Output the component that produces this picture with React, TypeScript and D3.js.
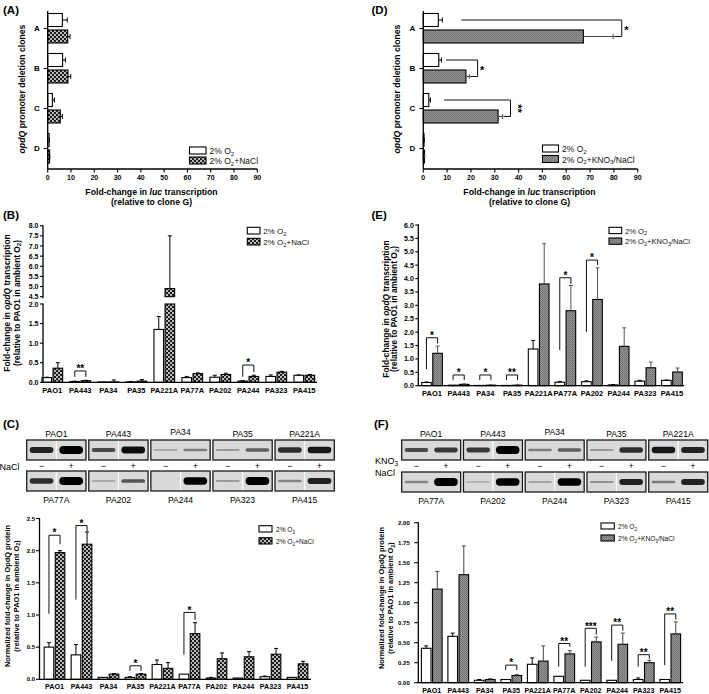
import React from "react";
import * as d3 from "d3";

const FONT = "'Liberation Sans', Arial, Helvetica, sans-serif";

// ---------- Panels A / D : promoter deletion clones ----------
const CLONES = ["A", "B", "C", "D"];
const A_O2 = [6.3, 6.4, 2.0, 0.6];
const A_O2_ERR = [8.4, 7.6, 2.9, 0.7];
const A_NACL = [8.6, 8.7, 5.4, 0.8];
const A_NACL_ERR = [9.6, 9.9, 6.3, 0.9];
const D_O2 = [6.3, 6.5, 2.3, 0.3];
const D_O2_ERR = [8.0, 7.6, 3.0, 0.4];
const D_KNO3 = [67.2, 17.9, 31.4, 0.5];
const D_KNO3_ERR = [79.7, 19.3, 33.3, 0.6];
const D_SIG_FROM = [16, 9.5, 8.7];
const D_SIG_TO = [83.3, 22.8, 36.6];
const D_SIG_LABEL = ["*", "*", "**"];
const FOLD_TICKS = [0, 10, 20, 30, 40, 50, 60, 70, 80, 90];

// ---------- Strains ----------
const STRAINS = ["PAO1", "PA443", "PA34", "PA35", "PA221A", "PA77A", "PA202", "PA244", "PA323", "PA415"];

// Panel B : opdQ transcription, 2% O2 vs 2% O2 + NaCl
const B_O2 = [0.12, 0.02, 0.01, 0.01, 1.35, 0.12, 0.13, 0.03, 0.15, 0.18];
const B_O2_ERR = [0.13, 0.03, 0.01, 0.02, 1.68, 0.15, 0.18, 0.04, 0.19, 0.19];
const B_NACL = [0.36, 0.04, 0.01, 0.03, 4.9, 0.22, 0.2, 0.15, 0.26, 0.18];
const B_NACL_ERR = [0.5, 0.05, 0.06, 0.07, 7.5, 0.24, 0.23, 0.18, 0.28, 0.2];
const B_TICKS_LOW = [0, 0.5, 1, 1.5, 2];
const B_TICKS_HIGH = [4.5, 5, 5.5, 6, 6.5, 7, 7.5, 8];
const B_SIG = [
  { i: 1, top: 0.29, left: 0.14, right: 0.14, label: "**" },
  { i: 7, top: 0.44, left: 0.14, right: 0.26, label: "*" },
];

// Panel E : opdQ transcription, 2% O2 vs 2% O2 + KNO3/NaCl
const E_O2 = [0.12, 0.02, 0.01, 0.01, 1.37, 0.13, 0.15, 0.03, 0.17, 0.2];
const E_O2_ERR = [0.14, 0.02, 0.01, 0.01, 1.69, 0.16, 0.18, 0.04, 0.2, 0.21];
const E_KNO3 = [1.21, 0.05, 0.02, 0.02, 3.8, 2.8, 3.22, 1.47, 0.67, 0.51];
const E_KNO3_ERR = [1.48, 0.07, 0.03, 0.03, 5.3, 3.74, 4.4, 2.16, 0.88, 0.66];
const E_TICKS = [0, 0.5, 1, 1.5, 2, 2.5, 3, 3.5, 4, 4.5, 5, 5.5, 6];
const E_SIG = [
  { i: 0, top: 1.79, left: 0.62, right: 1.58, label: "*" },
  { i: 1, top: 0.4, left: 0.21, right: 0.21, label: "*" },
  { i: 2, top: 0.4, left: 0.21, right: 0.21, label: "*" },
  { i: 3, top: 0.4, left: 0.21, right: 0.21, label: "**" },
  { i: 5, top: 4.03, left: 1.33, right: 3.8, label: "*" },
  { i: 6, top: 4.69, left: 2.01, right: 4.5, label: "*" },
];

// Panel C : OpdQ protein, 2% O2 vs 2% O2 + NaCl
const C_O2 = [0.5, 0.38, 0.03, 0.03, 0.23, 0.08, 0.02, 0.02, 0.04, 0.03];
const C_O2_ERR = [0.57, 0.54, 0.03, 0.04, 0.3, 0.08, 0.03, 0.02, 0.05, 0.03];
const C_NACL = [1.97, 2.1, 0.08, 0.08, 0.17, 0.71, 0.32, 0.35, 0.39, 0.24];
const C_NACL_ERR = [2.0, 2.29, 0.09, 0.09, 0.26, 0.88, 0.41, 0.43, 0.48, 0.28];
const C_TICKS = [0, 0.5, 1, 1.5, 2, 2.5];
const C_SIG = [
  { i: 0, top: 2.24, left: 1.02, right: 2.1, label: "*" },
  { i: 1, top: 2.39, left: 1.24, right: 2.3, label: "*" },
  { i: 3, top: 0.21, left: 0.13, right: 0.13, label: "*" },
  { i: 5, top: 1.04, left: 0.38, right: 0.92, label: "*" },
];

// Panel F : OpdQ protein, 2% O2 vs 2% O2 + KNO3/NaCl
const F_O2 = [0.43, 0.58, 0.03, 0.04, 0.23, 0.08, 0.03, 0.03, 0.04, 0.04];
const F_O2_ERR = [0.46, 0.62, 0.04, 0.04, 0.31, 0.08, 0.03, 0.03, 0.06, 0.04];
const F_KNO3 = [1.17, 1.35, 0.04, 0.09, 0.27, 0.36, 0.51, 0.48, 0.25, 0.61];
const F_KNO3_ERR = [1.39, 1.71, 0.05, 0.1, 0.46, 0.4, 0.57, 0.62, 0.28, 0.76];
const F_TICKS = [0, 0.25, 0.5, 0.75, 1, 1.25, 1.5, 1.75, 2];
const F_SIG = [
  { i: 3, top: 0.22, left: 0.16, right: 0.16, label: "*" },
  { i: 5, top: 0.49, left: 0.2, right: 0.45, label: "**" },
  { i: 6, top: 0.68, left: 0.2, right: 0.6, label: "***" },
  { i: 7, top: 0.72, left: 0.275, right: 0.65, label: "**" },
  { i: 8, top: 0.35, left: 0.2, right: 0.3, label: "**" },
  { i: 9, top: 0.86, left: 0.22, right: 0.79, label: "**" },
];

// Western blots (band intensity 0..1 for − and + lanes)
const BLOT_TOP = ["PAO1", "PA443", "PA34", "PA35", "PA221A"];
const BLOT_BOTTOM = ["PA77A", "PA202", "PA244", "PA323", "PA415"];
const C_BAND_MINUS = [0.8, 0.6, 0.12, 0.2, 0.75, 0.75, 0.12, 0.0, 0.2, 0.3];
const C_BAND_PLUS = [1.0, 0.9, 0.35, 0.5, 0.85, 1.0, 0.55, 0.95, 1.0, 0.8];
const C_DIVIDER = [true, true, false, false, true, true, true, true, true, true];
const F_BAND_MINUS = [0.6, 0.7, 0.35, 0.2, 0.85, 0.3, 0.08, 0.15, 0.25, 0.35];
const F_BAND_PLUS = [0.7, 1.0, 0.5, 0.75, 0.8, 1.0, 0.95, 0.95, 0.8, 0.8];
const F_DIVIDER = [false, true, false, false, true, false, true, true, true, false];

type Sig = { i: number; top: number; left: number; right: number; label: string };
type Seg = { d0: number; d1: number; r0: number; r1: number; ticks: number[]; fmt: string };

function LegendText({ x, y, size, kno3 }: { x: number; y: number; size: number; kno3?: boolean }) {
  return (
    <text x={x} y={y} fontSize={size} fill="#111">
      2% O<tspan dy={1.8} fontSize={size * 0.72}>2</tspan>
      <tspan dy={-1.8}>{kno3 ? "+KNO" : "+NaCl"}</tspan>
      {kno3 ? (
        <>
          <tspan dy={1.8} fontSize={size * 0.72}>3</tspan>
          <tspan dy={-1.8}>/NaCl</tspan>
        </>
      ) : null}
    </text>
  );
}

function Legend({ x, y1, y2, w, h, fill, size, kno3, tx }: any) {
  return (
    <g>
      <rect x={x} y={y1} width={w} height={h} fill="#fff" stroke="#000" strokeWidth={1.1} />
      <text x={tx} y={y1 + h} fontSize={size} fill="#111">
        2% O<tspan dy={1.8} fontSize={size * 0.72}>2</tspan>
      </text>
      <rect x={x} y={y2} width={w} height={h} fill={fill} stroke="#000" strokeWidth={1.1} />
      <LegendText x={tx} y={y2 + h} size={size} kno3={kno3} />
    </g>
  );
}

function HPanel({ o2, o2e, tr, tre, x0, x1, fill, trErrColor, sig, ylabX }: any) {
  const x = d3.scaleLinear().domain([0, 90]).range([x0, x1]);
  const y = d3.scaleBand().domain(CLONES).range([8.5, 168.5]);
  const cy = (c: string) => (y(c) as number) + y.bandwidth() / 2;
  const axisY = 169;
  return (
    <g>
      {CLONES.map((c, i) => {
        const yc = cy(c);
        const yo = yc - 8.5;
        const yt = yc + 8;
        return (
          <g key={c}>
            <rect x={x(0)} y={yc - 15} width={x(o2[i]) - x(0)} height={13} fill="#fff" stroke="#000" strokeWidth={1.1} />
            <rect x={x(0)} y={yc + 1.5} width={x(tr[i]) - x(0)} height={13} fill={fill} stroke="#000" strokeWidth={1.1} />
            <path d={`M${x(o2[i])},${yo}H${x(o2e[i])}M${x(o2e[i])},${yo - 2.5}V${yo + 2.5}`} stroke="#000" strokeWidth={1} fill="none" />
            <path d={`M${x(tr[i])},${yt}H${x(tre[i])}M${x(tre[i])},${yt - 2.5}V${yt + 2.5}`} stroke={trErrColor} strokeWidth={1} fill="none" />
          </g>
        );
      })}
      {sig
        ? D_SIG_FROM.map((f, i) => {
            const yc = cy(CLONES[i]);
            const yo = yc - 8.5;
            const yt = yc + 8;
            const xr = x(D_SIG_TO[i]);
            return (
              <g key={"s" + i}>
                <path d={`M${x(f)},${yo}H${xr}V${yt}H${x(D_KNO3_ERR[i]) + 1}`} stroke="#111" strokeWidth={1} fill="none" />
                {D_SIG_LABEL[i].length > 1 ? (
                  <text x={xr + 4} y={yc} fontSize={11} fontWeight="bold" transform={`rotate(90 ${xr + 4} ${yc})`} textAnchor="middle">
                    {D_SIG_LABEL[i]}
                  </text>
                ) : (
                  <text x={xr + 2.5} y={yc + 5.5} fontSize={11} fontWeight="bold">
                    {D_SIG_LABEL[i]}
                  </text>
                )}
              </g>
            );
          })
        : null}
      {/* axes */}
      <line x1={x0} x2={x0} y1={11} y2={axisY} stroke="#000" strokeWidth={1.3} />
      <line x1={x0} x2={x1} y1={axisY} y2={axisY} stroke="#000" strokeWidth={1.3} />
      {CLONES.map((c) => (
        <g key={"yt" + c}>
          <line x1={x0 - 4} x2={x0} y1={cy(c)} y2={cy(c)} stroke="#000" strokeWidth={1.1} />
          <text x={x0 - 8} y={cy(c) + 2.7} fontSize={8} fontWeight="bold" textAnchor="end">
            {c}
          </text>
        </g>
      ))}
      {FOLD_TICKS.map((t) => (
        <g key={"xt" + t}>
          <line x1={x(t)} x2={x(t)} y1={axisY} y2={axisY + 3.5} stroke="#000" strokeWidth={1.1} />
          <text x={x(t)} y={180} fontSize={7} fontWeight="bold" textAnchor="middle">
            {t}
          </text>
        </g>
      ))}
      <text x={(x0 + x1) / 2 - 1} y={195} fontSize={8.7} fontWeight="bold" textAnchor="middle">
        Fold-change in <tspan fontStyle="italic">luc</tspan> transcription
      </text>
      <text x={(x0 + x1) / 2 - 1} y={204.5} fontSize={8.7} fontWeight="bold" textAnchor="middle">
        (relative to clone G)
      </text>
      <text x={ylabX} y={89} fontSize={8.7} fontWeight="bold" textAnchor="middle" transform={`rotate(-90 ${ylabX} 89)`}>
        <tspan fontStyle="italic">opdQ</tspan> promoter deletion clones
      </text>
    </g>
  );
}

function VPanel({ o2, o2e, tr, tre, xr, axisX, axisEnd, segs, fill, trErrColor, sig, catY, catFont, tickFont, tickLen, labelGap }: any) {
  const x = d3.scaleBand().domain(STRAINS).range(xr);
  const scales = (segs as Seg[]).map((s) => d3.scaleLinear().domain([s.d0, s.d1]).range([s.r0, s.r1]));
  const yOf = (v: number) => {
    if (segs.length > 1 && v >= segs[1].d0) return scales[1](Math.min(v, segs[1].d1));
    return scales[0](Math.min(v, segs[0].d1));
  };
  const bw = 9.6;
  const gap = 1.5;
  const cx = (s: string) => (x(s) as number) + x.bandwidth() / 2;
  const y0 = scales[0](0);
  const bars = (vals: number[], errs: number[], off: number, f: string, ec: string) =>
    STRAINS.map((s, i) => {
      const bx = cx(s) + off;
      const v = vals[i];
      const e = errs[i];
      const rects = (segs as Seg[]).map((sg, k) => {
        if (v <= sg.d0 && k > 0) return null;
        const top = Math.min(v, sg.d1);
        const yt = scales[k](top);
        const yb = scales[k](sg.d0);
        return <rect key={k} x={bx} y={yt} width={bw} height={Math.max(0.3, yb - yt)} fill={f} stroke="#000" strokeWidth={1.1} />;
      });
      const mx = bx + bw / 2;
      return (
        <g key={s + off}>
          {rects}
          {e > v ? (
            <path d={`M${mx},${yOf(v)}V${yOf(e)}M${mx - 2},${yOf(e)}H${mx + 2}`} stroke={ec} strokeWidth={1} fill="none" />
          ) : null}
        </g>
      );
    });
  return (
    <g>
      {bars(o2, o2e, -gap / 2 - bw, "#fff", "#000")}
      {bars(tr, tre, gap / 2, fill, trErrColor)}
      {(sig as Sig[]).map((sg, k) => {
        const c = cx(STRAINS[sg.i]);
        const xl = c - gap / 2 - bw / 2;
        const xrr = c + gap / 2 + bw / 2;
        const yt = yOf(sg.top);
        return (
          <g key={"sig" + k}>
            <path d={`M${xl},${yOf(sg.left)}V${yt}H${xrr}V${yOf(sg.right)}`} stroke="#111" strokeWidth={1} fill="none" />
            <text x={c} y={yt + 1.2} fontSize={10} fontWeight="bold" textAnchor="middle">
              {sg.label}
            </text>
          </g>
        );
      })}
      {/* y axis */}
      {(segs as Seg[]).map((sg, k) => (
        <g key={"ax" + k}>
          <line x1={axisX} x2={axisX} y1={scales[k](sg.d0) + (k === 0 ? 0.6 : 1.5)} y2={scales[k](sg.d1) - 0.5} stroke="#000" strokeWidth={1.3} />
          {sg.ticks.map((t) => (
            <g key={t}>
              <line x1={axisX - tickLen} x2={axisX} y1={scales[k](t)} y2={scales[k](t)} stroke="#000" strokeWidth={1.1} />
              <text x={axisX - labelGap} y={scales[k](t) + tickFont * 0.36} fontSize={tickFont} fontWeight="bold" textAnchor="end">
                {d3.format(sg.fmt)(t)}
              </text>
            </g>
          ))}
        </g>
      ))}
      <line x1={axisX} x2={axisEnd} y1={y0} y2={y0} stroke="#000" strokeWidth={1.3} />
      {STRAINS.map((s) => (
        <text key={"xl" + s} x={cx(s)} y={catY} fontSize={catFont} fontWeight="bold" textAnchor="middle">
          {s}
        </text>
      ))}
    </g>
  );
}

function Blots({ xr, y1, y2, minus, plus, divider }: any) {
  const bx = d3.scaleBand().domain(d3.range(5).map(String)).range(xr).paddingInner(0.045);
  const h = 20;
  const box = (k: number, row: number) => {
    const idx = row * 5 + k;
    const x = bx(String(k)) as number;
    const w = bx.bandwidth();
    const y = row === 0 ? y1 : y2;
    const lane = d3.scaleBand().domain(["-", "+"]).range([x, x + w]);
    const band = (lbl: string, v: number) => {
      if (v < 0.03) return null;
      const bh = 1.8 + 6.2 * v * v;
      const lx = (lane(lbl) as number) + lane.bandwidth() * 0.1;
      const lw = lane.bandwidth() * 0.8;
      const col = d3.interpolateRgb("#c2c2c2", "#050505")(Math.min(1, v * 1.05));
      return <rect x={lx} y={y + h / 2 - bh / 2} width={lw} height={bh} rx={bh / 2} fill={col} filter="url(#blur)" />;
    };
    return (
      <g key={"b" + idx}>
        <rect x={x} y={y} width={w} height={h} fill="#d9d9d9" />
        {band("-", minus[idx])}
        {band("+", plus[idx])}
        {divider[idx] ? <line x1={x + w / 2} x2={x + w / 2} y1={y} y2={y + h} stroke="#fff" strokeWidth={1.2} /> : null}
        <rect x={x} y={y} width={w} height={h} fill="none" stroke="#1a1a1a" strokeWidth={1.3} />
      </g>
    );
  };
  return (
    <g>
      {d3.range(5).map((k) => box(k, 0))}
      {d3.range(5).map((k) => box(k, 1))}
      {BLOT_TOP.map((s, k) => (
        <text key={"lt" + s} x={(bx(String(k)) as number) + bx.bandwidth() / 2} y={y1 - 3.5 - (s === "PA34" ? 1.5 : 0)} fontSize={8.6} textAnchor="middle">
          {s}
        </text>
      ))}
      {BLOT_BOTTOM.map((s, k) => (
        <text key={"lb" + s} x={(bx(String(k)) as number) + bx.bandwidth() / 2} y={y2 + h + 11.5} fontSize={8.6} textAnchor="middle">
          {s}
        </text>
      ))}
      {d3.range(5).map((k) => {
        const x = bx(String(k)) as number;
        const w = bx.bandwidth();
        return (
          <g key={"pm" + k}>
            <text x={x + w * 0.25} y={y1 + h + 8.5} fontSize={9} textAnchor="middle">−</text>
            <text x={x + w * 0.75} y={y1 + h + 8.5} fontSize={9} textAnchor="middle">+</text>
          </g>
        );
      })}
    </g>
  );
}

function VLabel({ x1, x2, cy, size, kind }: any) {
  return (
    <g fontWeight="bold" fontSize={size}>
      <text x={x1} y={cy} textAnchor="middle" transform={`rotate(-90 ${x1} ${cy})`}>
        {kind === "tx" ? (
          <>
            Fold-change in <tspan fontStyle="italic">opdQ</tspan> transcription
          </>
        ) : (
          "Normalized fold-change in OpdQ protein"
        )}
      </text>
      <text x={x2} y={cy} textAnchor="middle" transform={`rotate(-90 ${x2} ${cy})`}>
        (relative to PAO1 in ambient O<tspan dy={1.8} fontSize={size * 0.72}>2</tspan>
        <tspan dy={-1.8}>)</tspan>
      </text>
    </g>
  );
}

export default function App() {
  const segB: Seg[] = [
    { d0: 0, d1: 2, r0: 382.3, r1: 304, ticks: B_TICKS_LOW, fmt: ".1f" },
    { d0: 4.5, d1: 8, r0: 296.7, r1: 225.7, ticks: B_TICKS_HIGH, fmt: ".1f" },
  ];
  const segE: Seg[] = [{ d0: 0, d1: 6, r0: 385.7, r1: 225, ticks: E_TICKS, fmt: ".1f" }];
  const segC: Seg[] = [{ d0: 0, d1: 2.5, r0: 679.3, r1: 518.5, ticks: C_TICKS, fmt: ".1f" }];
  const segF: Seg[] = [{ d0: 0, d1: 2, r0: 682.7, r1: 522.7, ticks: F_TICKS, fmt: ".2f" }];
  return (
    <svg width={709} height={694} style={{ position: "absolute", left: 0, top: 0, display: "block", background: "#fff" }} fontFamily={FONT}>
      <defs>
        <pattern id="check" patternUnits="userSpaceOnUse" width={4} height={4}>
          <rect width={4} height={4} fill="#1c1c1c" />
          <circle cx={1} cy={1} r={0.95} fill="#fff" />
          <circle cx={3} cy={3} r={0.95} fill="#fff" />
        </pattern>
        <pattern id="gray" patternUnits="userSpaceOnUse" width={2} height={2}>
          <rect width={2} height={2} fill="#959595" />
          <rect width={1} height={1} fill="#6c6c6c" />
          <rect x={1} y={1} width={1} height={1} fill="#7a7a7a" />
        </pattern>
        <filter id="blur" x="-20%" y="-100%" width="140%" height="300%">
          <feGaussianBlur stdDeviation={0.7} />
        </filter>
      </defs>

      {/* Panel letters */}
      <g fontSize={11.5} fontWeight="bold">
        <text x={3} y={13.5}>(A)</text>
        <text x={371.5} y={13.5}>(D)</text>
        <text x={3} y={219}>(B)</text>
        <text x={371.5} y={219}>(E)</text>
        <text x={3} y={428}>(C)</text>
        <text x={374} y={428}>(F)</text>
      </g>

      {/* A */}
      <HPanel o2={A_O2} o2e={A_O2_ERR} tr={A_NACL} tre={A_NACL_ERR} x0={47.7} x1={257.3} fill="url(#check)" trErrColor="#000" ylabX={24.5} />
      <Legend x={189.5} y1={147} y2={157} w={16.5} h={7} fill="url(#check)" size={8.5} tx={209.5} />

      {/* D */}
      <HPanel o2={D_O2} o2e={D_O2_ERR} tr={D_KNO3} tre={D_KNO3_ERR} x0={423.3} x1={637.7} fill="url(#gray)" trErrColor="#444" sig ylabX={399.5} />
      <Legend x={542.5} y1={145} y2={155.5} w={16} h={7} fill="url(#gray)" size={8.5} kno3 tx={562} />

      {/* B */}
      <VPanel o2={B_O2} o2e={B_O2_ERR} tr={B_NACL} tre={B_NACL_ERR} xr={[38.3, 318.3]} axisX={43} axisEnd={317} segs={segB}
        fill="url(#check)" trErrColor="#000" sig={B_SIG} catY={393.3} catFont={7.5} tickFont={7} tickLen={3} labelGap={4.5} />
      <VLabel x1={10} x2={19.5} cy={303} size={8.4} kind="tx" />
      <Legend x={247.3} y1={227.3} y2={238.3} w={12.7} h={6.7} fill="url(#check)" size={8} tx={263.3} />

      {/* E */}
      <VPanel o2={E_O2} o2e={E_O2_ERR} tr={E_KNO3} tre={E_KNO3_ERR} xr={[418.7, 685.3]} axisX={418.3} axisEnd={684} segs={segE}
        fill="url(#gray)" trErrColor="#555" sig={E_SIG} catY={395.5} catFont={7.5} tickFont={7} tickLen={3} labelGap={4.5} />
      <VLabel x1={388.5} x2={397} cy={309} size={8.4} kind="tx" />
      <Legend x={609} y1={227.3} y2={238} w={12.7} h={6.3} fill="url(#gray)" size={7.6} kno3 tx={625} />

      {/* C blots + chart */}
      <Blots xr={[26.7, 334.3]} y1={440} y2={471} minus={C_BAND_MINUS} plus={C_BAND_PLUS} divider={C_DIVIDER} />
      <text x={-0.5} y={470} fontSize={9}>NaCl</text>
      <VPanel o2={C_O2} o2e={C_O2_ERR} tr={C_NACL} tre={C_NACL_ERR} xr={[41, 311]} axisX={39.5} axisEnd={311} segs={segC}
        fill="url(#check)" trErrColor="#000" sig={C_SIG} catY={689.3} catFont={7.2} tickFont={6} tickLen={3.5} labelGap={4.5} />
      <VLabel x1={10} x2={18.5} cy={596} size={7.4} kind="prot" />
      <Legend x={259} y1={525.7} y2={537.7} w={13} h={6.3} fill="url(#check)" size={6.6} tx={276} />

      {/* F blots + chart */}
      <Blots xr={[401.7, 707.7]} y1={440} y2={472} minus={F_BAND_MINUS} plus={F_BAND_PLUS} divider={F_DIVIDER} />
      <text x={375} y={464} fontSize={9}>
        KNO<tspan dy={2} fontSize={6.5}>3</tspan>
      </text>
      <text x={375} y={476} fontSize={9}>NaCl</text>
      <VPanel o2={F_O2} o2e={F_O2_ERR} tr={F_KNO3} tre={F_KNO3_ERR} xr={[418.5, 683.5]} axisX={418.3} axisEnd={683} segs={segF}
        fill="url(#gray)" trErrColor="#444" sig={F_SIG} catY={692.5} catFont={7.2} tickFont={6} tickLen={4} labelGap={8.5} />
      <VLabel x1={383.5} x2={393} cy={598} size={7.4} kind="prot" />
      <Legend x={601} y1={523} y2={535} w={13.3} h={6} fill="url(#gray)" size={6.6} kno3 tx={618} />
    </svg>
  );
}
